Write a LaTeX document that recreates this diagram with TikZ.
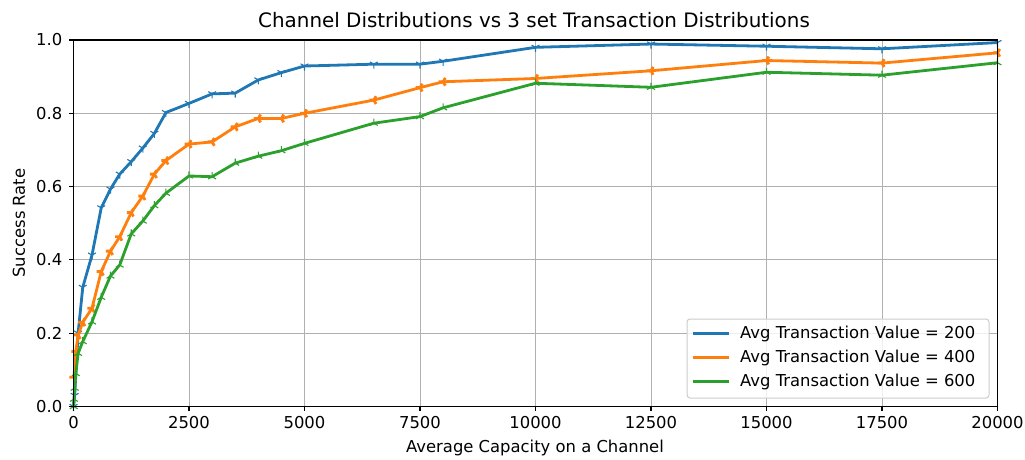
\documentclass[tikz,border=0pt]{standalone}
\usepackage{fontspec}
\setmainfont{DejaVu Sans}
\usetikzlibrary{plotmarks}
\definecolor{tabblue}{HTML}{1F77B4}
\definecolor{taborange}{HTML}{FF7F0E}
\definecolor{tabgreen}{HTML}{2CA02C}
\definecolor{gridgray}{HTML}{B0B0B0}
\definecolor{legendedge}{HTML}{CCCCCC}
\tikzset{
  gridline/.style={draw=gridgray, line width=1pt},
  spine/.style={draw=black, line width=1.1pt},
  tickmark/.style={draw=black, line width=1.1pt},
  ticklbl/.style={font=\fontsize{16.4}{19}\selectfont, inner sep=0pt},
  series/.style={line width=2.8pt, line join=round, mark size=4.5pt,
    mark options={solid, line width=1.1pt}},
}
\begin{document}
\begin{tikzpicture}[x=1pt, y=1pt]
\useasboundingbox[fill=white] (0,0) rectangle (1025,459);

% axes area: x in thousands, y is the success rate
\begin{scope}[shift={(73.5,52.5)}, x=46.2pt, y=366.5pt]
  % grid
  \foreach \gx in {0,2.5,...,20} \draw[gridline] (\gx,0) -- (\gx,1);
  \foreach \gy in {0,0.2,0.4,0.6,0.8,1.0} \draw[gridline] (0,\gy) -- (20,\gy);

  % series
  \draw[series, color=tabblue, mark=Mercedes star flipped] plot coordinates {
    (0,0) (0.025,0.03) (0.1,0.20) (0.2,0.325) (0.4,0.413) (0.6,0.542) (0.8,0.593)
    (1,0.634) (1.25,0.668) (1.5,0.705) (1.75,0.745) (2,0.802) (2.5,0.827) (3,0.853)
    (3.5,0.855) (4,0.891) (4.5,0.911) (5,0.929) (6.5,0.934) (7.5,0.934) (8,0.942)
    (10,0.980) (12.5,0.989) (15,0.983) (17.5,0.976) (20,0.993)};
  \draw[series, color=taborange, mark=Mercedes star, mark options={rotate=90}] plot coordinates {
    (0.01,0.08) (0.05,0.15) (0.1,0.195) (0.2,0.23) (0.4,0.268) (0.6,0.368) (0.8,0.424)
    (1,0.463) (1.25,0.529) (1.5,0.574) (1.75,0.634) (2,0.671) (2.5,0.716) (3,0.722)
    (3.5,0.763) (4,0.786) (4.5,0.786) (5,0.800) (6.5,0.836) (7.5,0.870) (8,0.886)
    (10,0.895) (12.5,0.916) (15,0.944) (17.5,0.937) (20,0.965)};
  \draw[series, color=tabgreen, mark=Mercedes star] plot coordinates {
    (0.005,0.0) (0.01,0.02) (0.025,0.05) (0.05,0.09) (0.1,0.145) (0.2,0.177) (0.4,0.231)
    (0.6,0.298) (0.8,0.356) (1,0.386) (1.25,0.471) (1.5,0.506) (1.75,0.548) (2,0.582)
    (2.5,0.629) (3,0.627) (3.5,0.664) (4,0.683) (4.5,0.698) (5,0.718) (6.5,0.773)
    (7.5,0.791) (8,0.815) (10,0.882) (12.5,0.871) (15,0.912) (17.5,0.904) (20,0.938)};

  % spines
  \draw[spine] (0,0) rectangle (20,1);

  % x ticks and labels
  \foreach \gx/\lbl in {0/0,2.5/2500,5/5000,7.5/7500,10/10000,12.5/12500,15/15000,17.5/17500,20/20000} {
    \draw[tickmark] (\gx,0) -- ++(0,-4.9pt);
    \node[ticklbl, anchor=north] (xt\lbl) at ([yshift=-10pt]\gx,0) {\lbl};
  }
  % y ticks and labels
  \foreach \gy in {0.0,0.2,0.4,0.6,0.8,1.0} {
    \draw[tickmark] (0,\gy) -- ++(-4.9pt,0);
    \node[ticklbl, anchor=east] (yt\gy) at ([xshift=-11pt]0,\gy) {\gy};
  }
\end{scope}

% titles
\node[font=\fontsize{19.9}{23}\selectfont, inner sep=0pt] (title) at (534,439) {Channel Distributions vs 3 set Transaction Distributions};
\node[ticklbl] (xlabel) at (535,11) {Average Capacity on a Channel};
\node[ticklbl, rotate=90] (ylabel) at (19,236) {Success Rate};

% legend
\draw[draw=legendedge, fill=white, fill opacity=0.8, line width=1pt, rounded corners=3pt]
  (687,61) rectangle (989,140);
\foreach \yy/\col/\mk/\val/\nm in {125.5/tabblue/Mercedes star flipped/200/a,
                                   101.5/taborange/Mercedes star/400/b,
                                   77.5/tabgreen/Mercedes star/600/c} {
  \coordinate (l\nm s) at (692.7,\yy);
  \coordinate (l\nm e) at (728.7,\yy);
  \draw[series, color=\col] (l\nm s) -- (l\nm e);
  \path (l\nm s) -- (l\nm e) node[midway, color=\col, mark size=4.5pt] {\pgfuseplotmark{\mk}};
  \node[ticklbl, anchor=west] (leg\nm) at (740,\yy) {Avg Transaction Value = \val};
}
\end{tikzpicture}
\end{document}
